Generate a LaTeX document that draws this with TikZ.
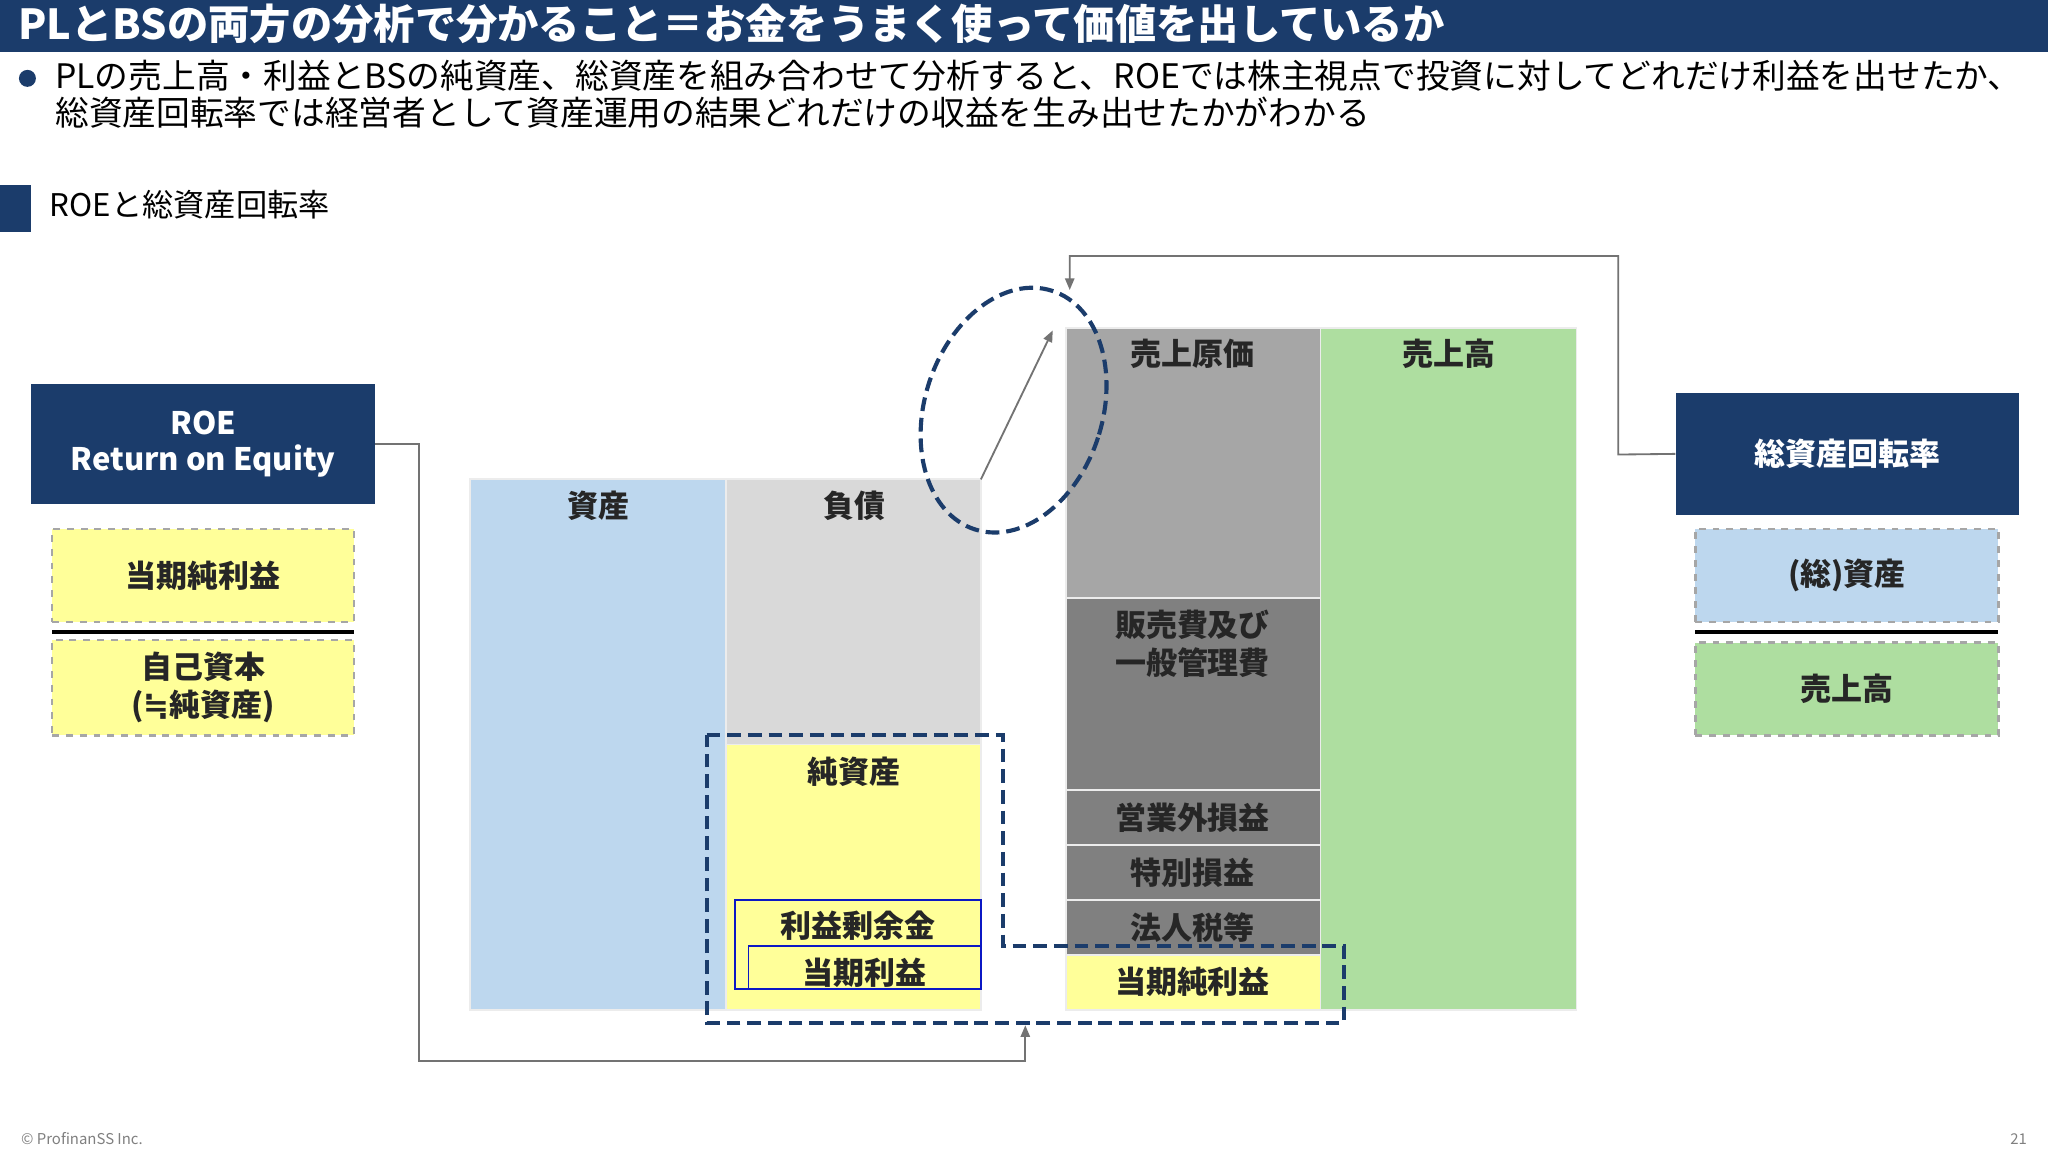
\documentclass[tikz,border=0pt]{standalone}
\usepackage{fontspec}
\setmainfont{Noto Sans CJK JP}
\newfontfamily\djv{DejaVu Sans}
\usetikzlibrary{arrows.meta}
\definecolor{navy}{HTML}{1B3C6B}
\definecolor{lblue}{HTML}{BDD7EE}
\definecolor{lgray}{HTML}{D9D9D9}
\definecolor{mgray}{HTML}{A6A6A6}
\definecolor{dgray}{HTML}{808080}
\definecolor{lyel}{HTML}{FFFF99}
\definecolor{lgreen}{HTML}{AEDEA0}
\tikzset{
 lab/.style={font=\fontsize{13.5}{16.5}\selectfont\bfseries, text=black!85},
 blk/.style={draw=white!85!gray, line width=0.8pt},
 dbox/.style={draw=gray!70, dashed, line width=1pt, align=center, lab},
 conn/.style={draw=gray!90!black, line width=0.8pt, -{Triangle[length=5pt,width=4pt]}},
 ndash/.style={draw=navy, dashed, line width=1.8pt, dash pattern=on 6pt off 3pt},
}
\begin{document}
\begin{tikzpicture}[x=0.02cm,y=-0.02cm]
\useasboundingbox (0,0) rectangle (1568,882);
\fill[white] (0,0) rectangle (1568,882);
% title
\fill[navy] (0,0) rectangle (1568,40);
\node[anchor=west,text=white,font=\fontsize{18}{20}\selectfont\bfseries] (title) at (8,18) {PLとBSの両方の分析で分かること＝お金をうまく使って価値を出しているか};
\fill[navy] (21,60) circle (6.5);
\node[anchor=north west,align=left,font=\fontsize{14.7}{15.8}\selectfont,inner sep=0] (bul) at (42,46) {PLの売上高・利益とBSの純資産、総資産を組み合わせて分析すると、ROEでは株主視点で投資に対してどれだけ利益を出せたか、\\総資産回転率では経営者として資産運用の結果どれだけの収益を生み出せたかがわかる};
\fill[navy] (0,142) rectangle (24,178);
\node[anchor=west,font=\fontsize{13.6}{16}\selectfont] (sec) at (32,157) {ROEと総資産回転率};
% ROE
\node[fill=navy,minimum width=263*0.02cm,minimum height=92*0.02cm,text=white,font=\fontsize{13.5}{16}\selectfont\bfseries,align=center] (roe) at (155.5,340) {ROE\\Return on Equity};
\node[dbox,fill=lyel,minimum width=231*0.02cm,minimum height=71*0.02cm] (np) at (155.5,440.5) {当期純利益};
\draw[line width=1.5pt] (40,484) -- (271,484);
\node[dbox,fill=lyel,minimum width=231*0.02cm,minimum height=73*0.02cm] (eq) at (155.5,526.5) {自己資本\\({\djv ≒}純資産)};
% Asset turnover
\node[fill=navy,minimum width=263*0.02cm,minimum height=93*0.02cm,text=white,font=\fontsize{13.5}{16}\selectfont\bfseries] (tat) at (1414.5,347.5) {総資産回転率};
\node[dbox,fill=lblue,minimum width=232*0.02cm,minimum height=71*0.02cm] (ta) at (1414,440.5) {(総)資産};
\draw[line width=1.5pt] (1298,484) -- (1530,484);
\node[dbox,fill=lgreen,minimum width=232*0.02cm,minimum height=71*0.02cm] (sl) at (1414,527.5) {売上高};
% BS
\filldraw[blk,fill=lblue] (360,367) rectangle (556,773);
\node[lab] (asset) at (458,387) {資産};
\filldraw[blk,fill=lgray] (556,367) rectangle (751,773);
\node[lab] (liab) at (654,387) {負債};
\filldraw[blk,fill=lyel] (556,570) rectangle (751,773);
\node[lab] (na) at (654,591) {純資産};
\draw[draw=blue!60!navy,line width=0.8pt] (563,689) rectangle (751,757);
\node[lab] (re) at (657,709) {利益剰余金};
\draw[draw=blue!60!navy,line width=0.8pt] (573,724) rectangle (751,757);
\node[lab] (ci) at (662,745) {当期利益};
% PL
\filldraw[blk,fill=mgray] (816,251) rectangle (1011,458);
\node[lab] (cogs) at (913,271) {売上原価};
\filldraw[blk,fill=dgray] (816,458) rectangle (1011,605);
\node[lab,align=center] (sga) at (913,493) {販売費及び\\一般管理費};
\filldraw[blk,fill=dgray] (816,605) rectangle (1011,647);
\node[lab] (nop) at (913,626) {営業外損益};
\filldraw[blk,fill=dgray] (816,647) rectangle (1011,689);
\node[lab] (ext) at (913,668) {特別損益};
\filldraw[blk,fill=dgray] (816,689) rectangle (1011,731);
\node[lab] (tax) at (913,710) {法人税等};
\filldraw[blk,fill=lyel] (816,731) rectangle (1011,773);
\node[lab] (ni) at (913,752) {当期純利益};
\filldraw[blk,fill=lgreen] (1011,251) rectangle (1207,773);
\node[lab] (sales) at (1109,271) {売上高};
% dashed highlight
\draw[ndash] (541,563) -- (768,563) -- (768,724) -- (1029,724) -- (1029,783) -- (541,783) -- cycle;
\draw[ndash] (776,314) ellipse[x radius=68, y radius=96, rotate=-18];
% connectors
\coordinate (liabtop) at (751,367);
\coordinate (ellin) at (806,253);
\draw[conn] (liabtop) -- (ellin);
\coordinate (bot) at (785,785);
\draw[conn] (roe.east) -- (321,340) -- (321,812) -- (785,812) -- (bot);
\coordinate (topin) at (819,222);
\draw[conn] (tat.west) -- (1239,348) -- (1239,196) -- (819,196) -- (topin);
% footer
\node[anchor=west,text=gray,font=\fontsize{6.5}{8}\selectfont] (cp) at (10,872) {© ProfinanSS Inc.};
\node[anchor=east,text=gray,font=\fontsize{6.5}{8}\selectfont] (pg) at (1558,872) {21};
\end{tikzpicture}
\end{document}
